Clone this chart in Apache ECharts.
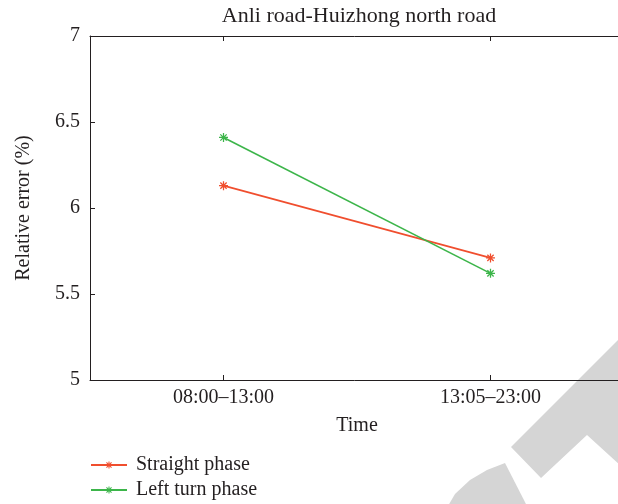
<!DOCTYPE html>
<html>
<head>
<meta charset="utf-8">
<script src="https://cdn.jsdelivr.net/npm/echarts@6/dist/echarts.min.js"></script>
<style>
  html, body { margin: 0; padding: 0; background: #fff; }
  #chart { width: 618px; height: 504px; }
</style>
</head>
<body>
<div id="chart"></div>
<script>
// Time periods on the x axis
const categories = ['08:00–13:00', '13:05–23:00'];
// Relative error (%) per phase
const straightPhase = [6.13, 5.71];
const leftTurnPhase = [6.41, 5.62];
// y axis scale
const yMin = 5, yMax = 7, yStep = 0.5;

const serif = 'Liberation Serif';
const textColor = '#231f20';
const axisColor = '#231f20';

// asterisk marker: horizontal, vertical and two diagonal bars
const asterisk = 'path://M0 8.6L20 8.6L20 11.4L0 11.4Z M8.6 0L11.4 0L11.4 20L8.6 20Z ' +
  'M2 4L4 2L18 16L16 18Z M16 2L18 4L4 18L2 16Z';

const chart = echarts.init(document.getElementById('chart'), null, { renderer: 'canvas' });

const axisLineStyle = { show: true, lineStyle: { color: axisColor, width: 1 } };

chart.setOption({
  backgroundColor: '#fff',
  animation: false,
  title: {
    text: 'Anli road-Huizhong north road',
    left: 354,
    textAlign: 'center',
    top: 0,
    textStyle: { fontFamily: serif, fontSize: 22, fontWeight: 'normal', color: textColor }
  },
  legend: {
    orient: 'vertical',
    left: 90,
    top: 455,
    padding: 0,
    itemWidth: 36,
    itemHeight: 9,
    itemGap: 5,
    textStyle: { fontFamily: serif, fontSize: 20, color: textColor, padding: [0, 0, 0, 4] },
    data: ['Straight phase', 'Left turn phase']
  },
  grid: { left: 90, top: 36, right: -6, bottom: 124, outerBoundsMode: 'none', containLabel: false },
  xAxis: [
    {
      type: 'category',
      data: categories,
      position: 'bottom',
      name: 'Time',
      nameLocation: 'middle',
      nameGap: 36,
      nameTextStyle: { fontFamily: serif, fontSize: 20, color: textColor },
      axisLine: axisLineStyle,
      axisTick: { show: true, inside: true, length: 5, alignWithLabel: true, lineStyle: { color: axisColor } },
      axisLabel: { fontFamily: serif, fontSize: 20, color: textColor, margin: 8 },
      splitLine: { show: false }
    },
    {
      type: 'category',
      data: categories,
      position: 'top',
      axisLine: axisLineStyle,
      axisTick: { show: true, inside: true, length: 5, alignWithLabel: true, lineStyle: { color: axisColor } },
      axisLabel: { show: false },
      splitLine: { show: false }
    }
  ],
  yAxis: {
    type: 'value',
    min: yMin,
    max: yMax,
    interval: yStep,
    name: 'Relative error (%)',
    nameLocation: 'middle',
    nameGap: 56,
    nameTextStyle: { fontFamily: serif, fontSize: 20, color: textColor },
    axisLine: axisLineStyle,
    axisTick: { show: true, inside: true, length: 5, lineStyle: { color: axisColor } },
    axisLabel: { fontFamily: serif, fontSize: 20, color: textColor, margin: 10 },
    splitLine: { show: false }
  },
  series: [
    {
      name: 'Straight phase',
      type: 'line',
      data: straightPhase,
      symbol: asterisk,
      symbolSize: 9,
      color: '#f04e2e',
      lineStyle: { width: 1.6, color: '#f04e2e' },
      itemStyle: { color: '#f04e2e' },
      z: 3
    },
    {
      name: 'Left turn phase',
      type: 'line',
      data: leftTurnPhase,
      symbol: asterisk,
      symbolSize: 9,
      color: '#3cb54a',
      lineStyle: { width: 1.6, color: '#3cb54a' },
      itemStyle: { color: '#3cb54a' },
      z: 3
    }
  ],
  graphic: [
    {
      type: 'polygon',
      z: -10,
      silent: true,
      shape: { points: [[620, 338], [511, 447], [541, 478], [587, 435], [620, 465]] },
      style: { fill: '#d5d5d5' }
    },
    {
      type: 'polygon',
      z: -10,
      silent: true,
      shape: { points: [[505, 463], [527, 506], [448, 506], [455, 494], [470, 480], [487, 470]] },
      style: { fill: '#d5d5d5' }
    }
  ]
});
</script>
</body>
</html>
